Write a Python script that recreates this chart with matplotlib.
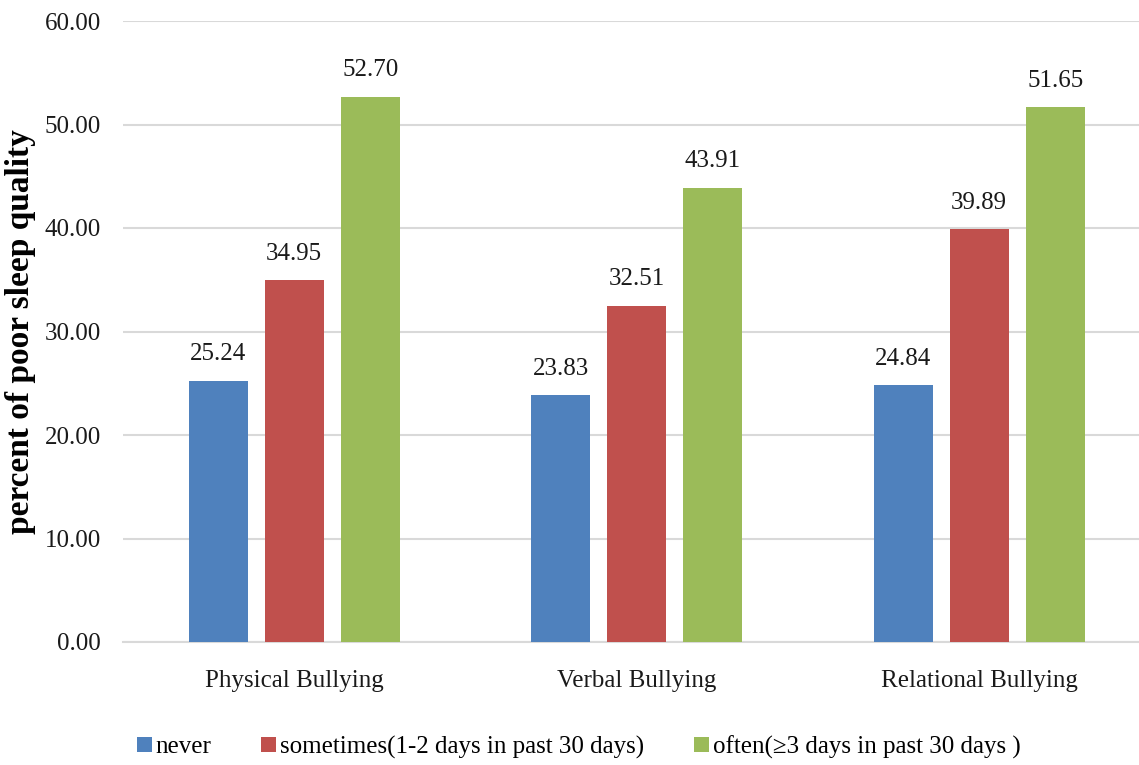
import matplotlib
matplotlib.use("Agg")
import matplotlib.pyplot as plt
from matplotlib.patches import Patch
import numpy as np

categories = ["Physical Bullying", "Verbal Bullying", "Relational Bullying"]
series_names = ["never", "sometimes(1-2 days in past 30 days)", "often(\u22653 days in past 30 days )"]
never = [25.24, 23.83, 24.84]
sometimes = [34.95, 32.51, 39.89]
often = [52.70, 43.91, 51.65]
yticks = [0, 10, 20, 30, 40, 50, 60]

colors = ["#4F81BD", "#C0504D", "#9BBB59"]
plt.rcParams['font.family'] = ['Liberation Serif', 'DejaVu Serif']

fig = plt.figure(figsize=(11.39, 7.65), dpi=100)
ax = fig.add_axes([123/1139, 123/765, 1 - 123/1139, (642-21)/765])

x = np.arange(len(categories))
width = 0.172
offset = 0.222
for i, (vals, c) in enumerate(zip([never, sometimes, often], colors)):
    bars = ax.bar(x + (i - 1) * offset, vals, width, color=c, zorder=3)
    for b, v in zip(bars, vals):
        ax.annotate(f"{v:.2f}", (b.get_x() + b.get_width() / 2, v),
                    xytext=(0, 11), textcoords="offset points",
                    ha="center", va="bottom", fontsize=18, color="#1a1a1a")

ax.set_xlim(-0.5, -0.5 + (1139 - 123) / 342.5)
ax.set_ylim(0, 60)
ax.set_yticks(yticks)
ax.set_yticklabels([f"{t:.2f}" for t in yticks], fontsize=18, color="#1a1a1a")
ax.set_xticks(x)
ax.set_xticklabels(categories, fontsize=18, color="#1a1a1a")
ax.tick_params(axis="both", length=0)
ax.tick_params(axis="y", pad=16)
ax.tick_params(axis="x", pad=20)
ax.grid(axis="y", color="#D9D9D9", linewidth=1.5, zorder=0)
for s in ["top", "right", "left"]:
    ax.spines[s].set_visible(False)
ax.spines["bottom"].set_color("#D9D9D9")
ax.spines["bottom"].set_linewidth(1.5)

ax.set_ylabel("percent of poor sleep quality", fontsize=24, fontweight="bold", labelpad=6)

handles = [Patch(facecolor=c, edgecolor="none") for c in colors]
fig.legend(handles, series_names, loc="center left", bbox_to_anchor=(114/1139, 1 - 747/765),
           ncol=3, frameon=False, fontsize=18, handlelength=0.6, handleheight=0.6,
           handletextpad=0.15, columnspacing=2.0)

fig.savefig("out.png", dpi=100, facecolor="white")
